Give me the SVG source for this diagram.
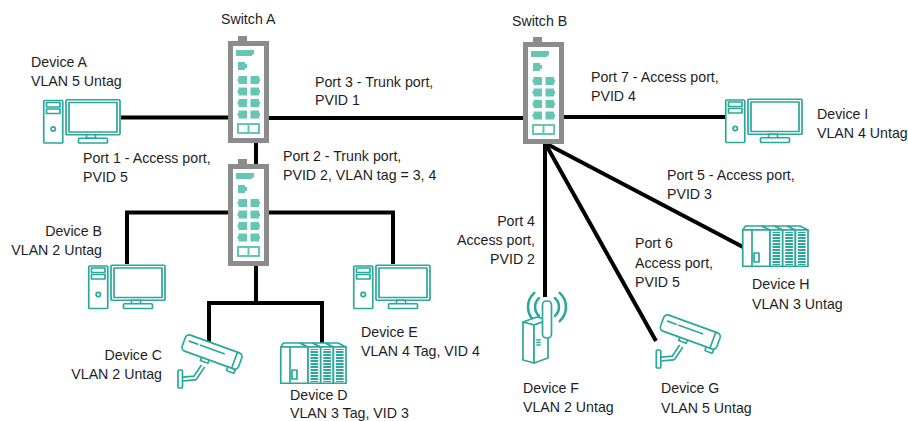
<svg xmlns="http://www.w3.org/2000/svg" xmlns:xlink="http://www.w3.org/1999/xlink" width="908" height="421" viewBox="0 0 908 421">
  <style>
    .lbl { font-family: "Liberation Sans", Arial, sans-serif; font-size: 14.2px; fill: #1e1e1e; }
    .end { text-anchor: end; }
    .wire { fill: none; stroke: #000; stroke-width: 4; stroke-linejoin: miter; }
    .dev { fill: #fff; stroke: #2aa89a; stroke-width: 1.7; stroke-linejoin: round; }
    .devln { fill: none; stroke: #2aa89a; stroke-width: 1.7; stroke-linecap: round; }
    .wave { fill: none; stroke: #2aa89a; stroke-width: 2.6; stroke-linecap: round; }
    .port { fill: #66c6b4; }
  </style>
  <defs>
    <pattern id="stripes" width="4" height="3" patternUnits="userSpaceOnUse">
      <rect width="4" height="2" fill="#2aa89a"/>
    </pattern>
    <!-- managed switch, 41 x 102 -->
    <g id="switch">
      <rect x="10" y="-5" width="9" height="6" fill="#8c8c8c"/>
      <rect x="2.5" y="2.5" width="36" height="97" fill="#fff" stroke="#8c8c8c" stroke-width="5"/>
      <path class="port" d="M8,9 H26 V13.5 H24 V15 H8 Z"/>
      <path class="port" d="M10,21 H17 V23 H19 V27 H17 V29 H10 Z"/>
      <g class="port">
        <path d="M10.5,35 h8.5 v8 h-8.5 v-2.5 h-1 v-3 h1 z"/>
        <path d="M22.5,35 h8.5 v2.5 h1 v3 h-1 v2.5 h-8.5 z"/>
        <path d="M10.5,46.5 h8.5 v8 h-8.5 v-2.5 h-1 v-3 h1 z"/>
        <path d="M22.5,46.5 h8.5 v2.5 h1 v3 h-1 v2.5 h-8.5 z"/>
        <path d="M10.5,58 h8.5 v8 h-8.5 v-2.5 h-1 v-3 h1 z"/>
        <path d="M22.5,58 h8.5 v2.5 h1 v3 h-1 v2.5 h-8.5 z"/>
        <path d="M10.5,69.5 h8.5 v8 h-8.5 v-2.5 h-1 v-3 h1 z"/>
        <path d="M22.5,69.5 h8.5 v2.5 h1 v3 h-1 v2.5 h-8.5 z"/>
      </g>
      <rect x="9" y="82" width="23" height="11" fill="#66c6b4"/>
      <rect x="11" y="84" width="8.5" height="7" fill="#fff"/>
      <rect x="21.5" y="84" width="8.5" height="7" fill="#fff"/>
    </g>
    <!-- desktop computer, 78 x 45 -->
    <g id="pc">
      <rect class="dev" x="0.75" y="1.5" width="19" height="42.5" rx="1"/>
      <rect class="dev" x="3.5" y="3.5" width="13.5" height="4.5"/>
      <rect class="dev" x="3.5" y="10" width="13.5" height="4.5"/>
      <circle class="dev" cx="10.25" cy="30" r="2.2"/>
      <rect class="dev" x="23" y="0.75" width="54" height="35" rx="1"/>
      <rect class="dev" x="26" y="3.5" width="48" height="29.5"/>
      <rect class="dev" x="43.5" y="35.75" width="9" height="3.5"/>
      <rect class="dev" x="35.5" y="39.25" width="29" height="4.75" rx="1"/>
    </g>
    <!-- PLC rack: CPU module + three I/O modules, 66 x 42 -->
    <g id="plc">
      <polygon class="dev" points="0.75,5 3.5,1 20,1 28,5"/>
      <rect class="dev" x="0.75" y="5" width="27.25" height="36.25"/>
      <line class="devln" x1="10" y1="5" x2="10" y2="41.25"/>
      <rect class="dev" x="12" y="28" width="5" height="9"/>
      <polygon class="dev" points="20,1 32.7,1 40.7,5 28,5"/>
      <rect class="dev" x="28" y="5" width="12.7" height="36.25"/>
      <rect x="30.5" y="7" width="7.7" height="33" fill="url(#stripes)"/>
      <polygon class="dev" points="32.7,1 45.4,1 53.4,5 40.7,5"/>
      <rect class="dev" x="40.7" y="5" width="12.7" height="36.25"/>
      <rect x="43.2" y="7" width="7.7" height="33" fill="url(#stripes)"/>
      <polygon class="dev" points="45.4,1 58,1 66,5 53.4,5"/>
      <rect class="dev" x="53.4" y="5" width="12.6" height="36.25"/>
      <rect x="55.9" y="7" width="7.7" height="33" fill="url(#stripes)"/>
    </g>
    <!-- wall-mounted IP camera -->
    <g id="camera">
      <path d="M26,31 L18,43 L6,44" fill="none" stroke="#2aa89a" stroke-width="5.5" stroke-linejoin="round"/>
      <path d="M26,31 L18,43 L6,44" fill="none" stroke="#fff" stroke-width="2.2" stroke-linejoin="round"/>
      <rect class="dev" x="1" y="35" width="4.5" height="18" rx="1"/>
      <g transform="translate(35,17) rotate(20)">
        <rect class="dev" x="-8" y="7" width="8" height="5"/>
        <rect class="dev" x="20" y="7.5" width="8" height="5" rx="1"/>
        <rect class="dev" x="-30" y="-8.5" width="60" height="17" rx="4"/>
        <path class="devln" d="M-25,-2.5 H-16 M-13,-2.5 H12"/>
        <line class="devln" x1="24" y1="-8" x2="24" y2="8"/>
      </g>
    </g>
  </defs>

  <!-- links -->
  <g id="connectors">
    <path class="wire" d="M121,117.5 H228"/>
    <path class="wire" d="M269,118 H523"/>
    <path class="wire" d="M256,143 V165"/>
    <path class="wire" d="M228,212.5 H127 V264"/>
    <path class="wire" d="M269,212.5 H393 V264"/>
    <path class="wire" d="M256,265 V303"/>
    <path class="wire" d="M209,344 V303 H322 V343"/>
    <path class="wire" d="M564,117 H726"/>
    <path class="wire" d="M545,143 V297"/>
    <path class="wire" d="M545,143 L656,341"/>
    <path class="wire" d="M545,143 L743,247"/>
  </g>

  <g id="switch-a">
    <use xlink:href="#switch" transform="translate(228,41)"/>
    <text class="lbl" x="221" y="24">Switch A</text>
  </g>
  <g id="switch-a2">
    <use xlink:href="#switch" transform="translate(228,164)"/>
  </g>
  <g id="switch-b">
    <use xlink:href="#switch" transform="translate(523,42)"/>
    <text class="lbl" x="512" y="26">Switch B</text>
  </g>

  <g id="device-a">
    <use xlink:href="#pc" transform="translate(43,99)"/>
    <text class="lbl" x="31" y="67">Device A</text>
    <text class="lbl" x="31" y="86">VLAN 5 Untag</text>
  </g>
  <g id="device-b">
    <use xlink:href="#pc" transform="translate(88,264.5)"/>
    <text class="lbl end" x="102" y="236">Device B</text>
    <text class="lbl end" x="102" y="255">VLAN 2 Untag</text>
  </g>
  <g id="device-c">
    <use xlink:href="#camera" transform="translate(177,335)"/>
    <text class="lbl end" x="162" y="360">Device C</text>
    <text class="lbl end" x="162" y="379">VLAN 2 Untag</text>
  </g>
  <g id="device-d">
    <use xlink:href="#plc" transform="translate(280,342)"/>
    <text class="lbl" x="290" y="400">Device D</text>
    <text class="lbl" x="290" y="418">VLAN 3 Tag, VID 3</text>
  </g>
  <g id="device-e">
    <use xlink:href="#pc" transform="translate(353,264.5)"/>
    <text class="lbl" x="361" y="337">Device E</text>
    <text class="lbl" x="361" y="356">VLAN 4 Tag, VID 4</text>
  </g>
  <g id="device-f">
    <!-- radio waves, centred on the antenna tip -->
    <path class="wave" d="M539,298.1 A12,12 0 0 0 539,315.9 M534.3,292.9 A19,19 0 0 0 534.3,321.1"/>
    <path class="wave" d="M555,298.1 A12,12 0 0 1 555,315.9 M559.7,292.9 A19,19 0 0 1 559.7,321.1"/>
    <polygon class="dev" points="523,322 537,317 548,320 534,325"/>
    <polygon class="dev" points="523,322 534,325 534,363 523,360"/>
    <polygon class="dev" points="534,325 548,320 548,358 534,363"/>
    <rect class="dev" x="542.5" y="301" width="9" height="37" rx="4"/>
    <path class="devln" d="M537,340 H540 M537,342.5 H540 M537,345 H540"/>
    <text class="lbl" x="523" y="393">Device F</text>
    <text class="lbl" x="523" y="412">VLAN 2 Untag</text>
  </g>
  <g id="device-g">
    <use xlink:href="#camera" transform="translate(655.3,315)"/>
    <text class="lbl" x="661" y="393">Device G</text>
    <text class="lbl" x="661" y="413">VLAN 5 Untag</text>
  </g>
  <g id="device-h">
    <use xlink:href="#plc" transform="translate(742,225)"/>
    <text class="lbl" x="752" y="289">Device H</text>
    <text class="lbl" x="752" y="309">VLAN 3 Untag</text>
  </g>
  <g id="device-i">
    <use xlink:href="#pc" transform="translate(725,98.5)"/>
    <text class="lbl" x="817" y="119">Device I</text>
    <text class="lbl" x="817" y="138">VLAN 4 Untag</text>
  </g>

  <g id="port-labels">
    <text class="lbl" x="315" y="87">Port 3 - Trunk port,</text>
    <text class="lbl" x="315" y="105">PVID 1</text>
    <text class="lbl" x="83" y="163">Port 1 - Access port,</text>
    <text class="lbl" x="83" y="182">PVID 5</text>
    <text class="lbl" x="283" y="161">Port 2 - Trunk port,</text>
    <text class="lbl" x="283" y="180">PVID 2, VLAN tag = 3, 4</text>
    <text class="lbl" x="591" y="82">Port 7 - Access port,</text>
    <text class="lbl" x="591" y="101">PVID 4</text>
    <text class="lbl" x="667" y="180">Port 5 - Access port,</text>
    <text class="lbl" x="667" y="199">PVID 3</text>
    <text class="lbl end" x="535" y="226">Port 4</text>
    <text class="lbl end" x="535" y="245">Access port,</text>
    <text class="lbl end" x="535" y="264">PVID 2</text>
    <text class="lbl" x="635" y="248">Port 6</text>
    <text class="lbl" x="635" y="268">Access port,</text>
    <text class="lbl" x="635" y="287">PVID 5</text>
  </g>
</svg>
